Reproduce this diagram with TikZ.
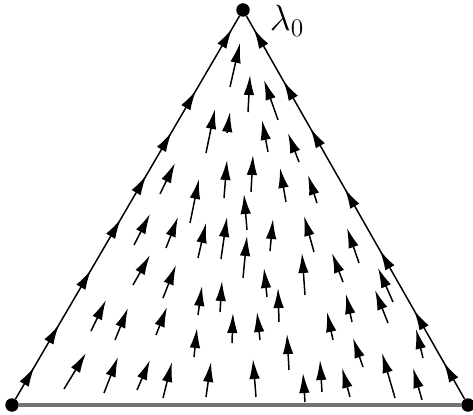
\documentclass[tikz,border=0pt]{standalone}
\usetikzlibrary{arrows.meta,decorations.markings}
\begin{document}
\begin{tikzpicture}[x=0.02cm, y=-0.02cm,
    vertex/.style={circle, fill, inner sep=0pt, minimum size=0.27cm},
    field/.style={line width=0.85pt, -{Latex[length=0.4cm, width=0.21cm]}},
    base/.style={line width=1.8pt, black!55},
    leftside/.style={line width=0.85pt, postaction={decorate}, decoration={markings,
      mark=at position 0.084 with {\arrow{Latex[length=0.4cm, width=0.21cm]}},
      mark=at position 0.194 with {\arrow{Latex[length=0.4cm, width=0.21cm]}},
      mark=at position 0.337 with {\arrow{Latex[length=0.4cm, width=0.21cm]}},
      mark=at position 0.470 with {\arrow{Latex[length=0.4cm, width=0.21cm]}},
      mark=at position 0.584 with {\arrow{Latex[length=0.4cm, width=0.21cm]}},
      mark=at position 0.697 with {\arrow{Latex[length=0.4cm, width=0.21cm]}},
      mark=at position 0.806 with {\arrow{Latex[length=0.4cm, width=0.21cm]}},
      mark=at position 0.967 with {\arrow{Latex[length=0.4cm, width=0.21cm]}}}},
    rightside/.style={line width=0.85pt, postaction={decorate}, decoration={markings,
      mark=at position 0.095 with {\arrow{Latex[length=0.4cm, width=0.21cm]}},
      mark=at position 0.231 with {\arrow{Latex[length=0.4cm, width=0.21cm]}},
      mark=at position 0.388 with {\arrow{Latex[length=0.4cm, width=0.21cm]}},
      mark=at position 0.549 with {\arrow{Latex[length=0.4cm, width=0.21cm]}},
      mark=at position 0.707 with {\arrow{Latex[length=0.4cm, width=0.21cm]}},
      mark=at position 0.831 with {\arrow{Latex[length=0.4cm, width=0.21cm]}},
      mark=at position 0.967 with {\arrow{Latex[length=0.4cm, width=0.21cm]}}}}]
  \useasboundingbox (0,0) rectangle (473,415);
  \node[vertex] (apex) at (243,10) {};
  \node[vertex] (left) at (12,405) {};
  \node[vertex] (right) at (468,405) {};
  \node[font=\huge] (lam) at (287,21) {$\lambda_0$};
  \draw[base] (left) -- (right);
  \draw[leftside] (left) -- (apex);
  \draw[rightside] (right) -- (apex);
  \foreach \xa/\ya/\xb/\yb in {
      230/87/240/43, 248/112/250/75, 278/120/264/80,
      206/153/215/109, 227/133/230/112, 268/152/262/120, 299/162/288/133,
      160/194/175/163, 224/198/227/160, 251/192/253/155, 286/202/280/168, 317/203/308/175,
      190/223/199/179, 247/230/244/194, 134/245/150/214, 166/248/178/217,
      198/258/206/223, 221/259/227/217, 270/251/273/219, 314/252/304/216,
      359/263/347/228, 243/278/247/236,
      133/285/150/255, 163/298/176/265, 305/295/302/253, 343/282/332/253,
      267/297/264/268, 393/302/378/268, 198/315/202/286, 220/312/222/281,
      279/322/278/288, 352/322/346/294, 388/323/375/290,
      91/331/106/300, 115/340/128/308, 156/335/167/307, 232/343/233/313,
      260/340/257/312, 333/340/327/312, 423/358/416/329, 194/357/197/328,
      289/370/287/334, 363/367/353/338,
      64/389/86/353, 104/393/118/357, 137/390/150/360, 163/398/172/362,
      206/397/211/362, 256/397/253/359, 305/402/303/373, 322/392/320/360,
      350/397/342/368, 395/398/382/353, 422/400/413/368}
    \draw[field] (\xa,\ya) -- (\xb,\yb);
\end{tikzpicture}
\end{document}
